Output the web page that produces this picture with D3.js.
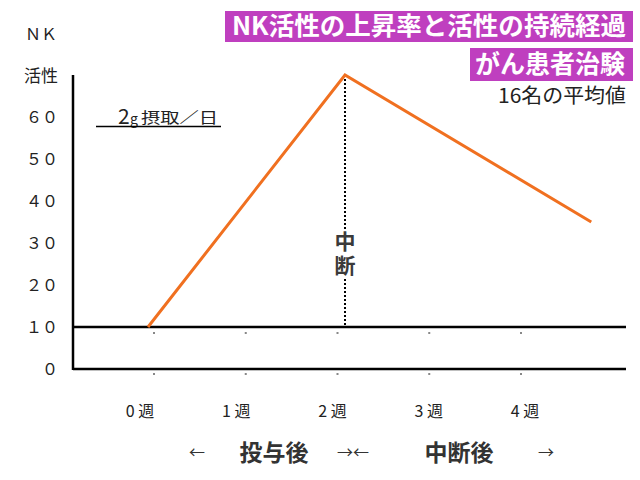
<!DOCTYPE html>
<html><head><meta charset="utf-8">
<script src="https://cdn.jsdelivr.net/npm/d3@7"></script>
<style>body{margin:0;background:#fff}svg{display:block}text{font-family:"Noto Sans CJK JP","Noto Sans",sans-serif}</style>
</head><body><div id="c"></div>
<script>
const weeks = [0, 2, 4.5];
const nkValues = [10, 70, 35];
const yTicks = [0, 10, 20, 30, 40, 50, 60];
const yTickLabels = ["０", "１０", "２０", "３０", "４０", "５０", "６０"];
const weekTicks = [0, 1, 2, 3, 4];
const weekLabels = ["0 週", "1 週", "2 週", "3 週", "4 週"];
const baseline = 10;
const stopWeek = 2;

const W = 640, H = 480;
const svg = d3.select("#c").append("svg").attr("width", W).attr("height", H);

const y = d3.scaleLinear().domain([0, 70]).range([369, 75]);
const x = d3.scaleLinear().domain([0, 2]).range([148, 345]);
const xLab = d3.scaleLinear().domain([0, 4]).range([140, 525]);
const xDot = d3.scaleLinear().domain([0, 4]).range([154, 521]);
const axisX0 = 73, axisX1 = 626;

// Title boxes
svg.append("rect").attr("x", 225).attr("y", 11).attr("width", 408).attr("height", 31).attr("fill", "#bf3fbf");
svg.append("text").attr("x", 232).attr("y", 35).attr("fill", "#fff").attr("font-size", 25).attr("font-weight", 700)
  .attr("textLength", 394).attr("lengthAdjust", "spacingAndGlyphs").text("NK活性の上昇率と活性の持続経過");
svg.append("rect").attr("x", 470).attr("y", 48).attr("width", 163).attr("height", 33).attr("fill", "#bf3fbf");
svg.append("text").attr("x", 475).attr("y", 73).attr("fill", "#fff").attr("font-size", 25).attr("font-weight", 700)
  .attr("textLength", 150).attr("lengthAdjust", "spacingAndGlyphs").text("がん患者治験");
svg.append("text").attr("x", 498).attr("y", 103).attr("fill", "#222").attr("font-size", 20)
  .attr("textLength", 128).attr("lengthAdjust", "spacingAndGlyphs").text("16名の平均値");

// y axis label
svg.append("text").attr("x", 41).attr("y", 40).attr("text-anchor", "middle").attr("font-size", 16).attr("fill", "#222").text("ＮＫ");
svg.append("text").attr("x", 41).attr("y", 82).attr("text-anchor", "middle").attr("font-size", 17).attr("fill", "#222").text("活性");

// y tick labels
svg.selectAll(".yt").data(yTicks).enter().append("text")
  .attr("x", 58).attr("y", d => y(d) + 6).attr("text-anchor", "end").attr("font-size", 16).attr("fill", "#222")
  .text((d, i) => yTickLabels[i]);

// axes lines
svg.append("line").attr("x1", axisX0).attr("x2", axisX0).attr("y1", y(70)).attr("y2", y(0) + 1).attr("stroke", "#000").attr("stroke-width", 2.5);
svg.append("line").attr("x1", axisX0).attr("x2", axisX1).attr("y1", y(0)).attr("y2", y(0)).attr("stroke", "#000").attr("stroke-width", 2.5);
svg.append("line").attr("x1", axisX0).attr("x2", axisX1).attr("y1", y(baseline)).attr("y2", y(baseline)).attr("stroke", "#000").attr("stroke-width", 2.5);

// small dots
weekTicks.forEach(w => {
  [y(baseline) + 6, y(0) + 5].forEach(yy => {
    svg.append("rect").attr("x", xDot(w) - 1).attr("y", yy - 1).attr("width", 2).attr("height", 2).attr("fill", "#888");
  });
});

// dosage annotation
svg.append("text").attr("x", 118).attr("y", 124).attr("font-size", 21).attr("fill", "#222").text("2");
svg.append("text").attr("x", 130).attr("y", 124).attr("font-size", 14).attr("fill", "#222").text("g");
svg.append("text").attr("x", 141).attr("y", 123).attr("font-size", 15).attr("fill", "#222")
  .attr("textLength", 77).attr("lengthAdjust", "spacingAndGlyphs").text("摂取／日");
svg.append("line").attr("x1", 96).attr("x2", 221).attr("y1", 126.5).attr("y2", 126.5).attr("stroke", "#000").attr("stroke-width", 1.5);

// dotted stop line
svg.append("line").attr("x1", x(stopWeek)).attr("x2", x(stopWeek)).attr("y1", y(70)).attr("y2", y(baseline))
  .attr("stroke", "#000").attr("stroke-width", 2).attr("stroke-dasharray", "2,2");
svg.append("rect").attr("x", x(stopWeek) - 12).attr("y", 229).attr("width", 24).attr("height", 50).attr("fill", "#fff");
svg.append("text").attr("x", x(stopWeek)).attr("y", 231)
  .style("writing-mode", "vertical-rl").style("text-orientation", "upright")
  .attr("letter-spacing", 3).attr("font-size", 21).attr("font-weight", 700).attr("fill", "#3a3a3a").text("中断");

// data line
const line = d3.line().x((d, i) => x(weeks[i])).y(d => y(d));
svg.append("path").datum(nkValues).attr("d", line).attr("fill", "none").attr("stroke", "#f07020").attr("stroke-width", 3);

// week labels
svg.selectAll(".wl").data(weekTicks).enter().append("text")
  .attr("x", d => xLab(d)).attr("y", 417).attr("text-anchor", "middle").attr("font-size", 16).attr("fill", "#222")
  .text((d, i) => weekLabels[i]);

// period labels
const per = [
  {t: "←", x: 197, fs: 16, fw: 400},
  {t: "投与後", x: 274, fs: 23, fw: 700},
  {t: "→←", x: 353, fs: 16, fw: 400},
  {t: "中断後", x: 459, fs: 23, fw: 700},
  {t: "→", x: 546, fs: 16, fw: 400}
];
svg.selectAll(".pl").data(per).enter().append("text")
  .attr("x", d => d.x).attr("y", d => d.fw === 700 ? 461 : 458).attr("text-anchor", "middle")
  .attr("font-size", d => d.fs).attr("font-weight", d => d.fw).attr("fill", "#333").text(d => d.t);
</script></body></html>
